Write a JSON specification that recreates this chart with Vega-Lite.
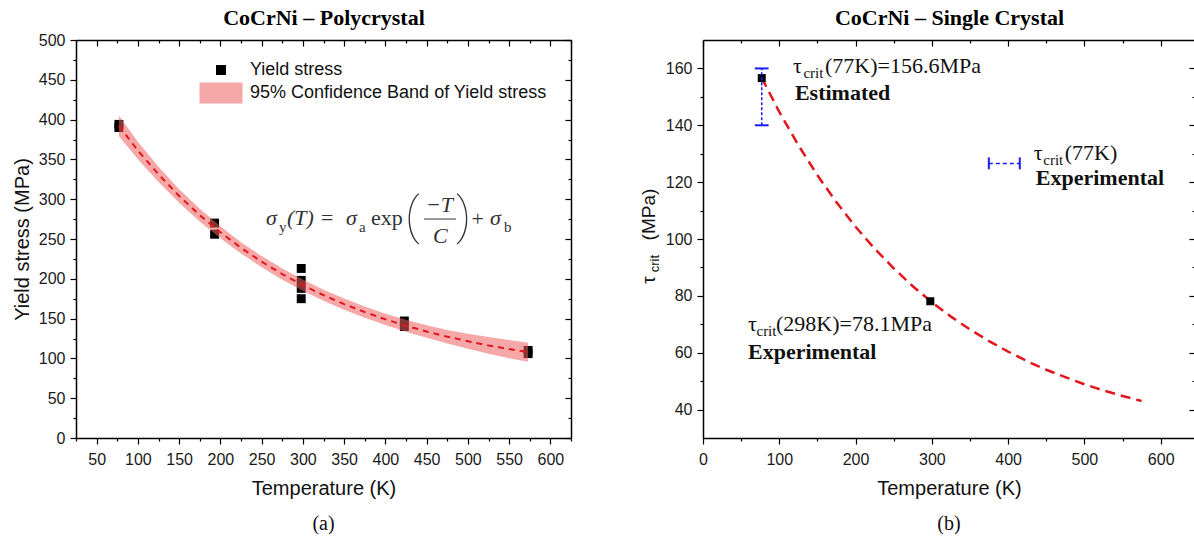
{
"$schema": "https://vega.github.io/schema/vega-lite/v6.json",
"background": "white",
"padding": {"left": 12, "top": 6, "right": 0, "bottom": 0},
"bounds": "flush",
"spacing": 132,
"config": {
  "view": {"stroke": null},
  "axis": {"domainColor": "#000", "domainWidth": 1.5, "tickColor": "#000", "tickWidth": 1.2, "labelFont": "Liberation Sans", "labelFontSize": 16, "labelColor": "#1a1a1a", "titleFont": "Liberation Sans", "titleFontSize": 20, "titleFontWeight": "normal", "titleColor": "#111", "grid": false, "labelOverlap": false, "labelFlush": false, "labelPadding": 5}
},
"datasets": {
  "ptsA": [{"T":77,"s":390},{"T":77,"s":394},{"T":193,"s":270},{"T":193,"s":256},{"T":298,"s":213},{"T":298,"s":198},{"T":298,"s":188},{"T":298,"s":175},{"T":423,"s":147},{"T":423,"s":140},{"T":573,"s":106},{"T":573,"s":110}],
  "curveA": [{"T":77,"s":392.0},{"T":100,"s":361.2},{"T":125,"s":331.2},{"T":150,"s":304.1},{"T":175,"s":280.0},{"T":200,"s":258.4},{"T":225,"s":238.9},{"T":250,"s":221.5},{"T":275,"s":205.9},{"T":300,"s":192.0},{"T":325,"s":179.4},{"T":350,"s":168.2},{"T":375,"s":158.2},{"T":400,"s":149.1},{"T":425,"s":141.1},{"T":450,"s":133.8},{"T":475,"s":127.3},{"T":500,"s":121.6},{"T":525,"s":116.3},{"T":550,"s":111.7},{"T":573,"s":107.8}],
  "bandA": [{"T":77,"lo":379,"hi":405},{"T":100,"lo":350.2,"hi":372.2},{"T":125,"lo":321.7,"hi":340.7},{"T":150,"lo":295.6,"hi":312.6},{"T":175,"lo":272,"hi":288},{"T":200,"lo":250.9,"hi":265.9},{"T":225,"lo":231.9,"hi":245.9},{"T":250,"lo":214.5,"hi":228.5},{"T":275,"lo":198.9,"hi":212.9},{"T":300,"lo":185,"hi":199},{"T":325,"lo":172.4,"hi":186.4},{"T":350,"lo":161.2,"hi":175.2},{"T":375,"lo":151.2,"hi":165.2},{"T":400,"lo":142.1,"hi":156.1},{"T":425,"lo":133.6,"hi":148.6},{"T":450,"lo":125.8,"hi":141.8},{"T":475,"lo":118.8,"hi":135.8},{"T":500,"lo":112.1,"hi":131.1},{"T":525,"lo":105.8,"hi":126.8},{"T":550,"lo":100.2,"hi":123.2},{"T":573,"lo":95.8,"hi":119.8}],
  "eqIt": [{"t":"σ","T":255.3,"v":267.6},{"t":"(T)","T":280.8,"v":267.6},{"t":"σ","T":352.3,"v":267.6},{"t":"−T","T":449,"v":283.9},{"t":"C","T":457.7,"v":245},{"t":"σ","T":526.8,"v":267.6}],
  "eqUp": [{"t":"=","T":322,"v":267.6},{"t":"exp","T":382.6,"v":267.6},{"t":"+","T":504.5,"v":266}],
  "eqSub": [{"t":"y","T":271,"v":258.8},{"t":"a","T":368,"v":258.8},{"t":"b","T":543.8,"v":258.8}],
  "eqParen": [{"t":"(","T":423.8,"v":257},{"t":")","T":485.6,"v":257}],
  "eqBar": [{"T":446.8,"T2":485.6,"v":275.1}],
  "ptsB": [{"T":77,"v":156.6},{"T":298,"v":78.1}],
  "curveB": [{"T":77,"v":156.7},{"T":100,"v":144.7},{"T":125,"v":133.0},{"T":150,"v":122.4},{"T":175,"v":112.9},{"T":200,"v":104.3},{"T":225,"v":96.6},{"T":250,"v":89.7},{"T":275,"v":83.4},{"T":298,"v":78.2},{"T":325,"v":72.7},{"T":350,"v":68.2},{"T":375,"v":64.1},{"T":400,"v":60.4},{"T":425,"v":57.0},{"T":450,"v":54.0},{"T":475,"v":51.4},{"T":500,"v":48.9},{"T":525,"v":46.7},{"T":550,"v":44.8},{"T":575,"v":43.0}],
  "annB": [{"t":"τ","T":117.9,"v":158.4},{"t":"(77K)=156.6MPa","T":160,"v":158.4},{"t":"τ","T":59,"v":67.7},{"t":"(298K)=78.1MPa","T":95.7,"v":67.7},{"t":"τ","T":433.6,"v":127.7},{"t":"(77K)","T":474.3,"v":127.7}],
  "annBsub": [{"t":"crit","T":131.7,"v":156.6},{"t":"crit","T":70.1,"v":65.9},{"t":"crit","T":446.1,"v":125.9}],
  "annBbold": [{"t":"Estimated","T":120.5,"v":148.8},{"t":"Experimental","T":59,"v":57.9},{"t":"Experimental","T":436.3,"v":118.9}],
  "ytB": [{"t":"τ","T":-62.9,"v":84.3},{"t":"(MPa)","T":-62.9,"v":99.5}],
  "ytBsub": [{"t":"crit","T":-57.6,"v":88.3}],
  "errB": [{"T":77,"lo":140,"hi":160}],
  "errCapB": [{"T1":68,"T2":86,"v":140},{"T1":68,"T2":86,"v":160}],
  "errLegB": [{"T1":374.7,"T2":415.3,"v":126.6}],
  "errLegCapB": [{"T":374.7,"lo":124.5,"hi":128.7},{"T":415.3,"lo":124.5,"hi":128.7}]
},
"hconcat": [
{
  "width": 495, "height": 398,
  "title": {"text": "(a)", "orient": "bottom", "font": "Liberation Serif", "fontSize": 20, "fontWeight": "normal", "color": "#111", "offset": 16},
  "resolve": {"axis": {"x": "independent", "y": "independent"}, "legend": {"fill": "independent"}},
  "layer": [
    {"data": {"name": "ptsA"}, "mark": {"type": "square", "size": 80, "opacity": 1},
     "encoding": {
       "x": {"field": "T", "type": "quantitative", "scale": {"domain": [25, 625], "nice": false, "zero": false},
             "axis": {"orient": "bottom", "values": [25,50,75,100,125,150,175,200,225,250,275,300,325,350,375,400,425,450,475,500,525,550,575,600,625], "labelExpr": "datum.value % 50 === 0 ? datum.label : ''", "tickSize": {"condition": {"test": "datum.value % 50 !== 0", "value": 3}, "value": 6}, "labelPadding": 7, "title": "Temperature (K)", "titlePadding": 11}},
       "y": {"field": "s", "type": "quantitative", "scale": {"domain": [0, 500], "nice": false, "zero": false},
             "axis": {"orient": "left", "values": [0,25,50,75,100,125,150,175,200,225,250,275,300,325,350,375,400,425,450,475,500], "labelExpr": "datum.value % 50 === 0 ? datum.label : ''", "tickSize": {"condition": {"test": "datum.value % 50 !== 0", "value": 3}, "value": 6}, "title": "Yield stress (MPa)", "titlePadding": 6}},
       "fill": {"datum": "Yield stress", "type": "nominal",
                "scale": {"domain": ["Yield stress", "95% Confidence Band of Yield stress"], "range": ["#000000", "#ee6060"]},
                "legend": {"values": ["Yield stress"], "orient": "none", "legendX": 136, "legendY": 21, "title": null, "labelFont": "Liberation Sans", "labelFontSize": 18, "labelColor": "#111", "labelLimit": 0, "symbolType": "square", "symbolSize": 100, "symbolFillColor": "#000", "labelOffset": 20, "symbolStrokeWidth": 0, "padding": 0}}
     }},
    {"data": {"name": "bandA"}, "mark": {"type": "area", "opacity": 0.55},
     "encoding": {
       "x": {"field": "T", "type": "quantitative", "scale": {"domain": [25, 625], "nice": false, "zero": false},
             "axis": {"orient": "top", "values": [25,50,75,100,125,150,175,200,225,250,275,300,325,350,375,400,425,450,475,500,525,550,575,600,625], "labels": false, "tickSize": {"condition": {"test": "datum.value % 50 !== 0", "value": -3}, "value": -6}, "title": "CoCrNi – Polycrystal", "titleFont": "Liberation Serif", "titleFontWeight": "bold", "titleFontSize": 22, "titleColor": "#000", "titlePadding": 10}},
       "y": {"field": "lo", "type": "quantitative", "scale": {"domain": [0, 500], "nice": false, "zero": false},
             "axis": {"orient": "right", "values": [0,25,50,75,100,125,150,175,200,225,250,275,300,325,350,375,400,425,450,475,500], "labels": false, "tickSize": {"condition": {"test": "datum.value % 50 !== 0", "value": -3}, "value": -6}, "title": null}},
       "y2": {"field": "hi"},
       "fill": {"datum": "95% Confidence Band of Yield stress", "type": "nominal",
                "legend": {"values": ["95% Confidence Band of Yield stress"], "orient": "none", "legendX": 136, "legendY": 44, "title": null, "labelFont": "Liberation Sans", "labelFontSize": 18, "labelColor": "#111", "labelLimit": 0, "symbolType": "M-4.3,-2.1H4.3V2.1H-4.3Z", "symbolSize": 100, "symbolOpacity": 0.55, "labelOffset": 20, "symbolStrokeWidth": 0, "padding": 0}}
     }},
    {"data": {"name": "curveA"}, "mark": {"type": "line", "color": "#e3161c", "strokeWidth": 2, "strokeDash": [6, 5]},
     "encoding": {
       "x": {"field": "T", "type": "quantitative", "scale": {"domain": [25, 625], "nice": false, "zero": false}, "axis": null},
       "y": {"field": "s", "type": "quantitative", "scale": {"domain": [0, 500], "nice": false, "zero": false}, "axis": null}
     }},
    {"data": {"name": "eqIt"}, "mark": {"type": "text", "font": "Liberation Serif", "fontStyle": "italic", "fontSize": 22, "align": "left", "baseline": "alphabetic", "color": "#333"},
     "encoding": {
       "x": {"field": "T", "type": "quantitative", "scale": {"domain": [25, 625], "nice": false, "zero": false}, "axis": null},
       "y": {"field": "v", "type": "quantitative", "scale": {"domain": [0, 500], "nice": false, "zero": false}, "axis": null},
       "text": {"field": "t"}
     }},
    {"data": {"name": "eqUp"}, "mark": {"type": "text", "font": "Liberation Serif", "fontSize": 22, "align": "left", "baseline": "alphabetic", "color": "#333"},
     "encoding": {
       "x": {"field": "T", "type": "quantitative", "scale": {"domain": [25, 625], "nice": false, "zero": false}, "axis": null},
       "y": {"field": "v", "type": "quantitative", "scale": {"domain": [0, 500], "nice": false, "zero": false}, "axis": null},
       "text": {"field": "t"}
     }},
    {"data": {"name": "eqSub"}, "mark": {"type": "text", "font": "Liberation Serif", "fontSize": 15, "align": "left", "baseline": "alphabetic", "color": "#333"},
     "encoding": {
       "x": {"field": "T", "type": "quantitative", "scale": {"domain": [25, 625], "nice": false, "zero": false}, "axis": null},
       "y": {"field": "v", "type": "quantitative", "scale": {"domain": [0, 500], "nice": false, "zero": false}, "axis": null},
       "text": {"field": "t"}
     }},
    {"data": {"name": "eqParen"}, "mark": {"type": "text", "font": "Roboto", "fontWeight": 100, "fontSize": 50, "align": "left", "baseline": "alphabetic", "color": "#333"},
     "encoding": {
       "x": {"field": "T", "type": "quantitative", "scale": {"domain": [25, 625], "nice": false, "zero": false}, "axis": null},
       "y": {"field": "v", "type": "quantitative", "scale": {"domain": [0, 500], "nice": false, "zero": false}, "axis": null},
       "text": {"field": "t"}
     }},
    {"data": {"name": "eqBar"}, "mark": {"type": "rule", "color": "#333", "strokeWidth": 1},
     "encoding": {
       "x": {"field": "T", "type": "quantitative", "scale": {"domain": [25, 625], "nice": false, "zero": false}, "axis": null},
       "x2": {"field": "T2"},
       "y": {"field": "v", "type": "quantitative", "scale": {"domain": [0, 500], "nice": false, "zero": false}, "axis": null}
     }}
  ]
},
{
  "width": 492, "height": 398,
  "title": {"text": "(b)", "orient": "bottom", "font": "Liberation Serif", "fontSize": 20, "fontWeight": "normal", "color": "#111", "offset": 16},
  "resolve": {"axis": {"x": "independent", "y": "independent"}},
  "layer": [
    {"data": {"name": "curveB"}, "mark": {"type": "line", "color": "#e3161c", "strokeWidth": 2.5, "strokeDash": [10, 6]},
     "encoding": {
       "x": {"field": "T", "type": "quantitative", "scale": {"domain": [0, 645], "nice": false, "zero": false},
             "axis": {"orient": "bottom", "values": [0,50,100,150,200,250,300,350,400,450,500,550,600], "labelExpr": "datum.value % 100 === 0 ? datum.label : ''", "tickSize": {"condition": {"test": "datum.value % 100 !== 0", "value": 3}, "value": 6}, "labelPadding": 7, "title": "Temperature (K)", "titlePadding": 11}},
       "y": {"field": "v", "type": "quantitative", "scale": {"domain": [30, 170], "nice": false, "zero": false},
             "axis": {"orient": "left", "values": [40,50,60,70,80,90,100,110,120,130,140,150,160], "labelExpr": "datum.value % 20 === 0 ? datum.label : ''", "tickSize": {"condition": {"test": "datum.value % 20 !== 0", "value": 3}, "value": 6}, "title": null}}
     }},
    {"data": {"name": "ptsB"}, "mark": {"type": "square", "size": 64, "color": "#000", "opacity": 1},
     "encoding": {
       "x": {"field": "T", "type": "quantitative", "scale": {"domain": [0, 645], "nice": false, "zero": false},
             "axis": {"orient": "top", "values": [0,50,100,150,200,250,300,350,400,450,500,550,600], "labels": false, "tickSize": {"condition": {"test": "datum.value % 100 !== 0", "value": -3}, "value": -6}, "title": "CoCrNi – Single Crystal", "titleFont": "Liberation Serif", "titleFontWeight": "bold", "titleFontSize": 22, "titleColor": "#000", "titlePadding": 10}},
       "y": {"field": "v", "type": "quantitative", "scale": {"domain": [30, 170], "nice": false, "zero": false},
             "axis": {"orient": "right", "values": [40,50,60,70,80,90,100,110,120,130,140,150,160], "labels": false, "tickSize": {"condition": {"test": "datum.value % 20 !== 0", "value": -3}, "value": -6}, "title": null}}
     }},
    {"data": {"name": "errB"}, "mark": {"type": "rule", "color": "#1a1aff", "strokeWidth": 1.5, "strokeDash": [3, 2]},
     "encoding": {
       "x": {"field": "T", "type": "quantitative", "scale": {"domain": [0, 645], "nice": false, "zero": false}, "axis": null},
       "y": {"field": "lo", "type": "quantitative", "scale": {"domain": [30, 170], "nice": false, "zero": false}, "axis": null},
       "y2": {"field": "hi"}
     }},
    {"data": {"name": "errCapB"}, "mark": {"type": "rule", "color": "#1a1aff", "strokeWidth": 2},
     "encoding": {
       "x": {"field": "T1", "type": "quantitative", "scale": {"domain": [0, 645], "nice": false, "zero": false}, "axis": null},
       "x2": {"field": "T2"},
       "y": {"field": "v", "type": "quantitative", "scale": {"domain": [30, 170], "nice": false, "zero": false}, "axis": null}
     }},
    {"data": {"name": "errLegB"}, "mark": {"type": "rule", "color": "#1a1aff", "strokeWidth": 1.5, "strokeDash": [4, 3]},
     "encoding": {
       "x": {"field": "T1", "type": "quantitative", "scale": {"domain": [0, 645], "nice": false, "zero": false}, "axis": null},
       "x2": {"field": "T2"},
       "y": {"field": "v", "type": "quantitative", "scale": {"domain": [30, 170], "nice": false, "zero": false}, "axis": null}
     }},
    {"data": {"name": "errLegCapB"}, "mark": {"type": "rule", "color": "#1a1aff", "strokeWidth": 2},
     "encoding": {
       "x": {"field": "T", "type": "quantitative", "scale": {"domain": [0, 645], "nice": false, "zero": false}, "axis": null},
       "y": {"field": "lo", "type": "quantitative", "scale": {"domain": [30, 170], "nice": false, "zero": false}, "axis": null},
       "y2": {"field": "hi"}
     }},
    {"data": {"name": "annB"}, "mark": {"type": "text", "font": "Liberation Serif", "fontSize": 22, "align": "left", "baseline": "alphabetic", "color": "#111"},
     "encoding": {
       "x": {"field": "T", "type": "quantitative", "scale": {"domain": [0, 645], "nice": false, "zero": false}, "axis": null},
       "y": {"field": "v", "type": "quantitative", "scale": {"domain": [30, 170], "nice": false, "zero": false}, "axis": null},
       "text": {"field": "t"}
     }},
    {"data": {"name": "annBsub"}, "mark": {"type": "text", "font": "Liberation Serif", "fontSize": 15, "align": "left", "baseline": "alphabetic", "color": "#111"},
     "encoding": {
       "x": {"field": "T", "type": "quantitative", "scale": {"domain": [0, 645], "nice": false, "zero": false}, "axis": null},
       "y": {"field": "v", "type": "quantitative", "scale": {"domain": [30, 170], "nice": false, "zero": false}, "axis": null},
       "text": {"field": "t"}
     }},
    {"data": {"name": "annBbold"}, "mark": {"type": "text", "font": "Liberation Serif", "fontSize": 22, "fontWeight": "bold", "align": "left", "baseline": "alphabetic", "color": "#111"},
     "encoding": {
       "x": {"field": "T", "type": "quantitative", "scale": {"domain": [0, 645], "nice": false, "zero": false}, "axis": null},
       "y": {"field": "v", "type": "quantitative", "scale": {"domain": [30, 170], "nice": false, "zero": false}, "axis": null},
       "text": {"field": "t"}
     }},
    {"data": {"name": "ytB"}, "mark": {"type": "text", "font": "Liberation Sans", "fontSize": 19, "angle": 270, "align": "left", "baseline": "alphabetic", "color": "#111"},
     "encoding": {
       "x": {"field": "T", "type": "quantitative", "scale": {"domain": [0, 645], "nice": false, "zero": false}, "axis": null},
       "y": {"field": "v", "type": "quantitative", "scale": {"domain": [30, 170], "nice": false, "zero": false}, "axis": null},
       "text": {"field": "t"}
     }},
    {"data": {"name": "ytBsub"}, "mark": {"type": "text", "font": "Liberation Sans", "fontSize": 13, "angle": 270, "align": "left", "baseline": "alphabetic", "color": "#111"},
     "encoding": {
       "x": {"field": "T", "type": "quantitative", "scale": {"domain": [0, 645], "nice": false, "zero": false}, "axis": null},
       "y": {"field": "v", "type": "quantitative", "scale": {"domain": [30, 170], "nice": false, "zero": false}, "axis": null},
       "text": {"field": "t"}
     }}
  ]
}
]
}
